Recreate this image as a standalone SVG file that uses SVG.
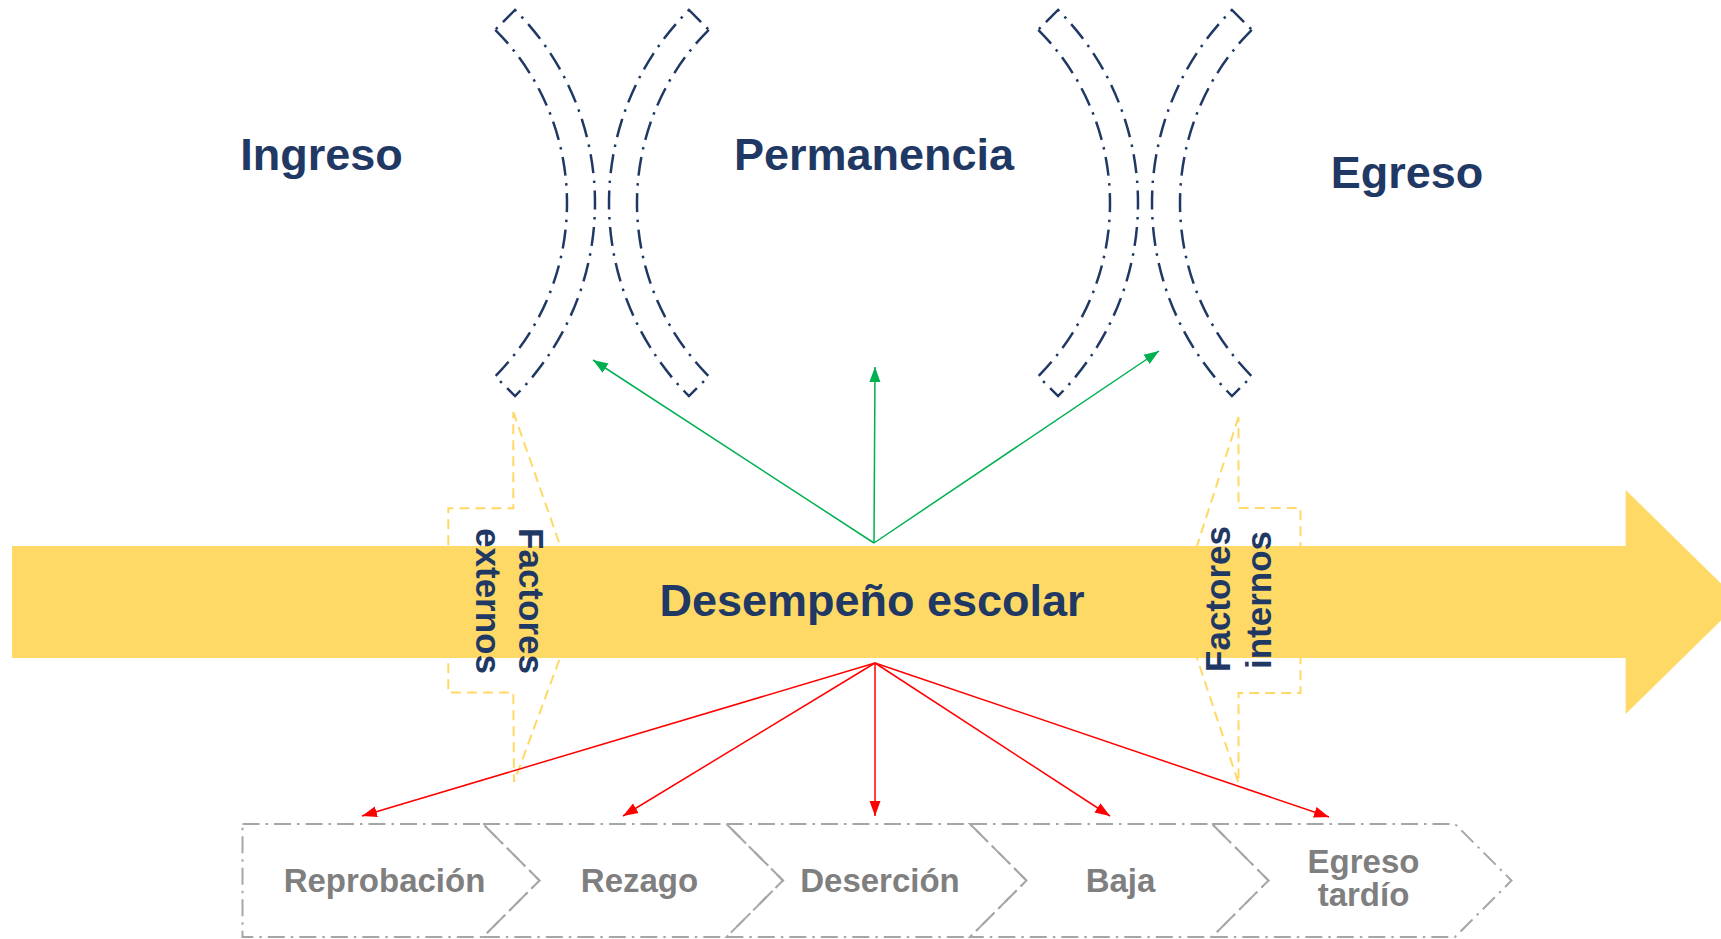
<svg xmlns="http://www.w3.org/2000/svg" width="1721" height="939" viewBox="0 0 1721 939">
<style>
.title{font-family:"Liberation Sans",Arial,sans-serif;font-weight:bold;font-size:45px;fill:#1F3864;text-anchor:middle}
.fact{font-family:"Liberation Sans",Arial,sans-serif;font-weight:bold;font-size:35px;fill:#1F3864;text-anchor:middle}
.step{font-family:"Liberation Sans",Arial,sans-serif;font-weight:bold;font-size:33px;fill:#7F7F7F;text-anchor:middle}
.bracket{fill:none;stroke:#1F3864;stroke-width:2.5;stroke-dasharray:19 7.5 2.5 7.5}
.callout{fill:none;stroke:#FFD966;stroke-width:2;stroke-dasharray:10 6}
.chev{fill:none;stroke:#A6A6A6;stroke-width:2;stroke-dasharray:17 6 2.5 6}
.green{stroke:#00B050;stroke-width:1.5;fill:none}
.red{stroke:#FF0000;stroke-width:1.5;fill:none}
</style>
<defs>
<path id="arc" d="M173.24,-173.24 A245,245 0 0 1 173.24,173.24 L193.04,193.04 A273,273 0 0 0 193.04,-193.04 Z"/>
<marker id="mg" markerUnits="userSpaceOnUse" markerWidth="16" markerHeight="12" refX="15" refY="6" orient="auto" viewBox="0 0 16 12">
<path d="M0,0.5 L15,6 L0,11.5 Z" fill="#00B050"/>
</marker>
<marker id="mr" markerUnits="userSpaceOnUse" markerWidth="16" markerHeight="12" refX="15" refY="6" orient="auto" viewBox="0 0 16 12">
<path d="M0,0.5 L15,6 L0,11.5 Z" fill="#FF0000"/>
</marker>
</defs>
<rect width="1721" height="939" fill="#FFFFFF"/>

<g id="brackets">
<use href="#arc" class="bracket" transform="translate(322,203)"/>
<use href="#arc" class="bracket" transform="translate(882,203) scale(-1,1)"/>
<use href="#arc" class="bracket" transform="translate(865,203)"/>
<use href="#arc" class="bracket" transform="translate(1425,203) scale(-1,1)"/>
</g>

<g id="ingreso"><text class="title" x="321.5" y="170">Ingreso</text></g>
<g id="permanencia"><text class="title" x="874" y="170">Permanencia</text></g>
<g id="egreso"><text class="title" x="1407" y="188">Egreso</text></g>

<g id="desempeno">
<path d="M12,546 L1625.7,546 L1625.7,490 L1740,602 L1625.7,714 L1625.7,658 L12,658 Z" fill="#FFD966"/>
<text class="title" x="872" y="616">Desempeño escolar</text>
</g>

<g id="factores-externos">
<path class="callout" d="M513.3,412 L560,545 L560,658 L514,782 L513.3,692.5 L448.3,692.5 L448.3,508.3 L513.3,508.3 Z"/>
<text class="fact" transform="translate(519,601) rotate(90)">Factores</text>
<text class="fact" transform="translate(476,601) rotate(90)">externos</text>
</g>

<g id="factores-internos">
<path class="callout" d="M1238.5,417 L1197,546 L1197,658 L1238.5,783 L1238.5,693 L1300.5,693 L1300.5,508 L1238.5,508 Z"/>
<text class="fact" transform="translate(1230,599) rotate(-90)">Factores</text>
<text class="fact" transform="translate(1271,600) rotate(-90)">internos</text>
</g>

<g id="connectors">
<line class="green" x1="874" y1="543" x2="593" y2="360" marker-end="url(#mg)"/>
<line class="green" x1="874" y1="543" x2="875" y2="367" marker-end="url(#mg)"/>
<line class="green" x1="874" y1="543" x2="1159" y2="351" marker-end="url(#mg)"/>
<line class="red" x1="875" y1="663" x2="362" y2="816" marker-end="url(#mr)"/>
<line class="red" x1="875" y1="663" x2="623" y2="816" marker-end="url(#mr)"/>
<line class="red" x1="875" y1="663" x2="875" y2="816" marker-end="url(#mr)"/>
<line class="red" x1="875" y1="663" x2="1110" y2="816" marker-end="url(#mr)"/>
<line class="red" x1="875" y1="663" x2="1329" y2="817" marker-end="url(#mr)"/>
</g>

<g id="reprobacion">
<path class="chev" d="M242.5,824 L483,824 L539.5,880.5 L483,937 L242.5,937 Z"/>
<text class="step" x="384.5" y="892">Reprobación</text>
</g>
<g id="rezago">
<path class="chev" d="M483,824 L726.5,824 L783,880.5 L726.5,937 L483,937 L539.5,880.5 Z"/>
<text class="step" x="639.5" y="892">Rezago</text>
</g>
<g id="desercion">
<path class="chev" d="M726.5,824 L970,824 L1026.5,880.5 L970,937 L726.5,937 L783,880.5 Z"/>
<text class="step" x="880" y="892">Deserción</text>
</g>
<g id="baja">
<path class="chev" d="M970,824 L1212,824 L1268.5,880.5 L1212,937 L970,937 L1026.5,880.5 Z"/>
<text class="step" x="1120.5" y="892">Baja</text>
</g>
<g id="egreso-tardio">
<path class="chev" d="M1212,824 L1455,824 L1511.5,880.5 L1455,937 L1212,937 L1268.5,880.5 Z"/>
<text class="step" x="1363.5" y="873">Egreso</text>
<text class="step" x="1363.5" y="906">tardío</text>
</g>
</svg>
